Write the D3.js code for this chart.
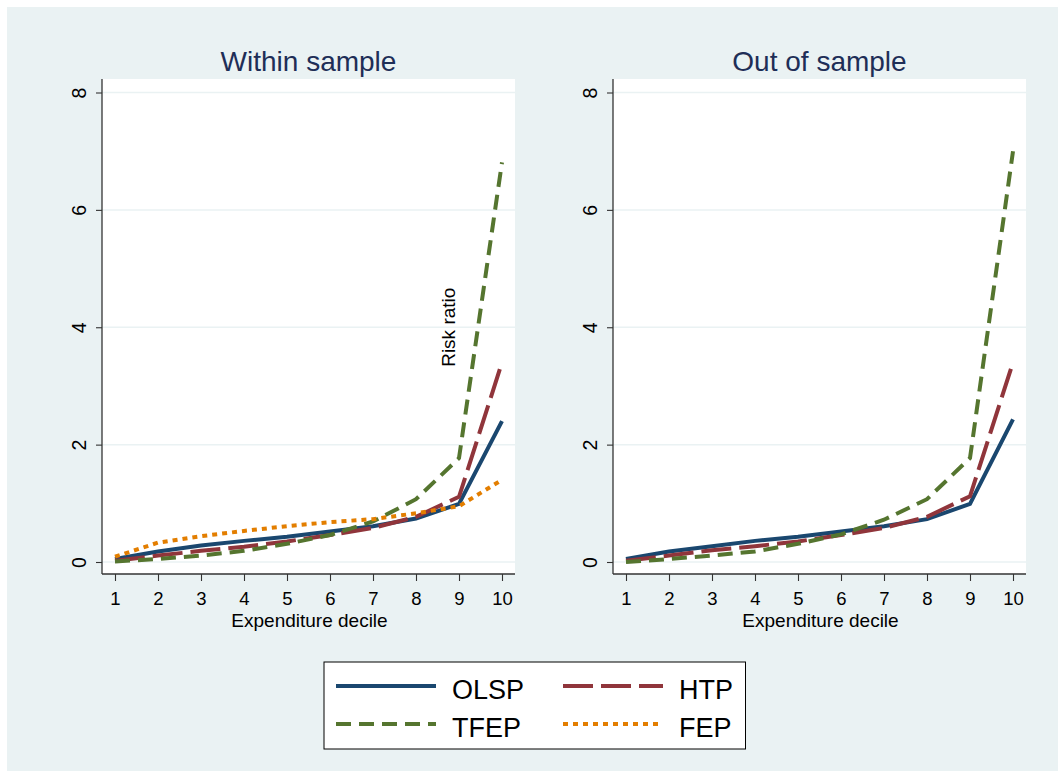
<!DOCTYPE html>
<html>
<head>
<meta charset="utf-8">
<script src="https://cdn.jsdelivr.net/npm/d3@7"></script>
<style>
  html, body { margin: 0; padding: 0; background: #ffffff; }
  svg { display: block; font-family: "Liberation Sans", Arial, Helvetica, sans-serif; }
</style>
</head>
<body>
<svg id="chart" width="1058" height="771"></svg>
<script>
// ---------------- data ----------------
const deciles = [1, 2, 3, 4, 5, 6, 7, 8, 9, 10];
const yTicks = [0, 2, 4, 6, 8];
const panelTitles = ["Within sample", "Out of sample"];
const seriesNames = ["OLSP", "HTP", "TFEP", "FEP"];

// Within sample
const withinOLSP = [0.05, 0.18, 0.28, 0.36, 0.43, 0.52, 0.61, 0.74, 0.99, 2.40];
const withinHTP  = [0.02, 0.11, 0.19, 0.26, 0.35, 0.46, 0.58, 0.77, 1.11, 3.40];
const withinTFEP = [0.01, 0.05, 0.11, 0.19, 0.31, 0.46, 0.69, 1.07, 1.77, 6.81];
const withinFEP  = [0.09, 0.33, 0.44, 0.53, 0.61, 0.68, 0.73, 0.83, 0.95, 1.40];

// Out of sample
const outOLSP = [0.05, 0.18, 0.27, 0.36, 0.43, 0.52, 0.61, 0.73, 0.99, 2.43];
const outHTP  = [0.02, 0.11, 0.20, 0.27, 0.35, 0.46, 0.58, 0.77, 1.12, 3.40];
const outTFEP = [0.00, 0.05, 0.11, 0.18, 0.31, 0.47, 0.72, 1.07, 1.77, 7.00];

// ---------------- styles ----------------
const styles = {
  OLSP: { color: "#1a476f", dash: null },
  HTP:  { color: "#90353b", dash: "30,8" },
  TFEP: { color: "#55752f", dash: "15,8" },
  FEP:  { color: "#e37e00", dash: "5,5" }
};

const panels = [
  { title: panelTitles[0], left: 102, right: 515, series: { OLSP: withinOLSP, HTP: withinHTP, TFEP: withinTFEP, FEP: withinFEP }, yTitle: true },
  { title: panelTitles[1], left: 613, right: 1026, series: { OLSP: outOLSP, HTP: outHTP, TFEP: outTFEP }, yTitle: false }
];

const svg = d3.select("#chart");
const W = 1058, H = 771;
const plotTop = 79, plotBottom = 574;
const lineW = 4;

// outer background
svg.append("rect").attr("x", 0).attr("y", 0).attr("width", W).attr("height", H).attr("fill", "#ffffff");
svg.append("rect").attr("x", 7).attr("y", 7).attr("width", W - 7).attr("height", H - 7).attr("fill", "#eaf2f3");

const y = d3.scaleLinear().domain([0, 8]).range([562, 92.5]);

panels.forEach(p => {
  const x = d3.scaleLinear().domain([1, 10]).range([p.left + 13, p.right - 13]);
  const g = svg.append("g");

  // plot region
  g.append("rect").attr("x", p.left).attr("y", plotTop)
    .attr("width", p.right - p.left).attr("height", plotBottom - plotTop)
    .attr("fill", "#ffffff");

  // gridlines
  g.selectAll(".grid").data(yTicks).enter().append("line")
    .attr("x1", p.left).attr("x2", p.right)
    .attr("y1", d => y(d)).attr("y2", d => y(d))
    .attr("stroke", "#eaf2f3").attr("stroke-width", 1.5);

  // title
  g.append("text").attr("x", (p.left + p.right) / 2).attr("y", 71)
    .attr("text-anchor", "middle").attr("font-size", 28).attr("fill", "#1e2e57")
    .text(p.title);

  // series lines
  const line = d3.line().x((d, i) => x(deciles[i])).y(d => y(d));
  seriesNames.forEach(name => {
    const vals = p.series[name];
    if (!vals) return;
    const s = styles[name];
    g.append("path").datum(vals)
      .attr("d", line)
      .attr("fill", "none")
      .attr("stroke", s.color)
      .attr("stroke-width", lineW)
      .attr("stroke-linejoin", "miter")
      .attr("stroke-dasharray", s.dash);
  });

  // y axis
  const yAxis = d3.axisLeft(y).tickValues(yTicks).tickSize(6).tickPadding(0).tickFormat(d3.format("d"));
  const ya = g.append("g").attr("transform", `translate(${p.left},0)`).call(yAxis);
  ya.select(".domain").attr("d", `M0,${plotTop}V${plotBottom}`).attr("stroke", "#333").attr("stroke-width", 1.3);
  ya.selectAll(".tick line").attr("stroke", "#333").attr("stroke-width", 1.1);
  ya.selectAll(".tick text")
    .attr("x", null).attr("dy", null)
    .attr("transform", "translate(-16,0) rotate(-90)")
    .attr("text-anchor", "middle")
    .attr("font-size", 19.5).attr("fill", "#000")
    .attr("font-family", "Liberation Sans, Arial, sans-serif");

  // x axis
  const xAxis = d3.axisBottom(x).tickValues(deciles).tickSize(7).tickPadding(5).tickFormat(d3.format("d"));
  const xa = g.append("g").attr("transform", `translate(0,${plotBottom})`).call(xAxis);
  xa.select(".domain").attr("d", `M${p.left},0H${p.right}`).attr("stroke", "#333").attr("stroke-width", 1.3);
  xa.selectAll(".tick line").attr("stroke", "#333").attr("stroke-width", 1.1);
  xa.selectAll(".tick text").attr("font-size", 18.5).attr("fill", "#000")
    .attr("y", 31).attr("dy", null)
    .attr("font-family", "Liberation Sans, Arial, sans-serif");

  // x axis title
  g.append("text").attr("x", (p.left + p.right) / 2 + 1).attr("y", 627)
    .attr("text-anchor", "middle").attr("font-size", 19).attr("fill", "#000")
    .text("Expenditure decile");

  // y axis title (placed inside the plot as in the original)
  if (p.yTitle) {
    g.append("text").attr("transform", `translate(455,${y(4)}) rotate(-90)`)
      .attr("text-anchor", "middle").attr("font-size", 19).attr("fill", "#000")
      .text("Risk ratio");
  }
});

// ---------------- legend ----------------
const legend = svg.append("g");
legend.append("rect").attr("x", 324).attr("y", 662).attr("width", 421.5).attr("height", 87)
  .attr("fill", "#ffffff").attr("stroke", "#000").attr("stroke-width", 1);

const legendLayout = [
  { name: "OLSP", x: 336, y: 686 },
  { name: "HTP",  x: 563, y: 686 },
  { name: "TFEP", x: 336, y: 724 },
  { name: "FEP",  x: 563, y: 724 }
];
legendLayout.forEach(l => {
  const s = styles[l.name];
  legend.append("line").attr("x1", l.x).attr("x2", l.x + 100)
    .attr("y1", l.y).attr("y2", l.y)
    .attr("stroke", s.color).attr("stroke-width", lineW)
    .attr("stroke-dasharray", s.dash);
  legend.append("text").attr("x", l.x + 116).attr("y", l.y + 12.5)
    .attr("font-size", 27).attr("fill", "#000").text(l.name);
});
</script>
</body>
</html>
